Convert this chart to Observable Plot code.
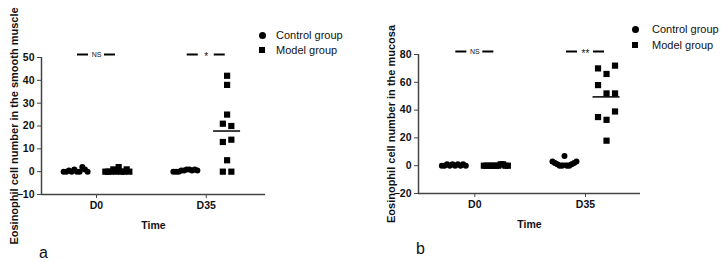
<!DOCTYPE html>
<html><head><meta charset="utf-8">
<script src="https://cdn.jsdelivr.net/npm/d3@7"></script>
<script src="https://cdn.jsdelivr.net/npm/@observablehq/plot@0.6"></script>
<style>
body{margin:0;background:#fff;font-family:Arial,"Liberation Sans",sans-serif;}
#wrap{position:relative;width:724px;height:262px;overflow:hidden;background:#fff;}
.panel{position:absolute;top:0;}
.item{position:absolute;white-space:nowrap;font-size:11px;line-height:12px;color:#111;}
.circ{position:absolute;width:7px;height:7px;border-radius:50%;background:#000;}
.sq{position:absolute;width:6px;height:6px;background:#000;}
.plab{position:absolute;font-size:16px;line-height:18px;color:#111;}
</style></head><body><div id="wrap"></div>
<script>
const times = ["D0", "D35"];
const groups = ["Control group", "Model group"];
// Panel a: smooth muscle
const smoothControlD0 = [0, 0, 0.5, 0, 1, 0, 0, 2, 1, 0];
const smoothModelD0 = [0, 0, 0, 1, 0, 2, 0, 0, 1, 0];
const smoothControlD35 = [0, 0, 0, 0.5, 0.5, 1, 1, 0.5, 1, 0.5];
const smoothModelD35 = [42, 38, 25, 21, 20, 13, 14, 5, 0, 0];
const smoothTicks = [-10, 0, 10, 20, 30, 40, 50];
const smoothSig = ["NS", "*"];
// Panel b: mucosa
const mucosaControlD0 = [0, 0, 1, 0, 1, 0, 1, 0, 1, 0];
const mucosaModelD0 = [0, 0, 0, 0, 0, 0, 0, 1, 1, 0, 0];
const mucosaControlD35 = [3, 2, 1, 0, 0, 7, 0, 0, 1, 2, 3];
const mucosaModelD35 = [70, 66, 72, 58, 52, 52, 35, 33, 39, 18];
const mucosaTicks = [-20, 0, 20, 40, 60, 80];
const mucosaSig = ["NS", "**"];

const FONT = 'Arial, "Liberation Sans", sans-serif';

// column-scatter layout: points whose values are close share a row, spread symmetrically
function layout(values, pxY, pxX, center, maxW = 24, sp = 8.5, gap = 8.8) {
  const idx = values.map((v, i) => i).sort((a, b) => values[b] - values[a] || a - b);
  const rows = []; let cur = null, prev = null;
  for (const i of idx) {
    if (cur && (values[prev] - values[i]) * pxY <= gap) cur.push(i);
    else { cur = [i]; rows.push(cur); }
    prev = i;
  }
  const out = [];
  for (const r of rows) {
    r.sort((a, b) => a - b);
    const n = r.length;
    const s = n > 1 ? Math.min(sp, maxW / (n - 1)) : 0;
    r.forEach((i, k) => out.push({value: values[i], x: center + (k - (n - 1) / 2) * s / pxX}));
  }
  return out;
}

function panel({title, series, ticks, sig, yDomain, xDomain, m}) {
  const W = 362, H = 262;
  const [mL, mR, mT, mB] = m;
  const pxX = (W - mL - mR) / (xDomain[1] - xDomain[0]);
  const pxY = (H - mT - mB) / (yDomain[1] - yDomain[0]);
  const off = 0.19;
  const pts = [], means = [];
  times.forEach((t, ti) => groups.forEach((g, gi) => {
    const vals = series[ti][gi];
    const c = ti + (gi === 0 ? -off : off);
    layout(vals, pxY, pxX, c).forEach(p => pts.push({...p, group: g}));
    means.push({mean: d3.mean(vals), x1: c - 13.5 / pxX, x2: c + 13.5 / pxX});
  }));
  const sigRows = sig.map((s, ti) => ({label: s, x: ti}));
  const segs = sigRows.flatMap(d => [
    {x1: d.x - 19 / pxX, x2: d.x - 8 / pxX},
    {x1: d.x + 8 / pxX, x2: d.x + 19 / pxX}
  ]);
  const sigY = yDomain[1] + 3 / pxY;
  return Plot.plot({
    width: W, height: H,
    marginLeft: mL, marginRight: mR, marginTop: mT, marginBottom: mB,
    x: {type: "linear", domain: xDomain},
    y: {domain: yDomain},
    style: {fontFamily: FONT, background: "transparent", color: "#111", overflow: "visible"},
    marks: [
      Plot.ruleX([xDomain[0]], {stroke: "#444", strokeWidth: 1.5}),
      Plot.ruleY([yDomain[0]], {stroke: "#444", strokeWidth: 1.5}),
      Plot.axisY({ticks, tickSize: 4, tickPadding: 3, fontSize: 10.5, fontWeight: "bold",
        stroke: "#444", label: null}),
      Plot.text([title], {frameAnchor: "left", rotate: -90, dx: -27, text: d => d,
        textAnchor: "middle", lineAnchor: "middle",
        fontSize: 11, fontWeight: "bold", fill: "#111"}),
      Plot.axisX({ticks: [0, 1], tickFormat: i => times[i], tickSize: 4, tickPadding: 3,
        fontSize: 10.5, fontWeight: "bold", stroke: "#444",
        label: "Time", labelAnchor: "center", labelOffset: 34, labelArrow: "none"}),
      Plot.ruleY(segs, {y: () => sigY, x1: "x1", x2: "x2", stroke: "#000", strokeWidth: 2}),
      Plot.text(sigRows.filter(d => d.label === "NS"), {x: "x", y: () => sigY, text: "label",
        fontSize: 7, fill: "#111"}),
      Plot.text(sigRows.filter(d => d.label !== "NS"), {x: "x", y: () => sigY, text: "label",
        fontSize: 10, dy: 2, fill: "#111"}),
      Plot.ruleY(means, {y: "mean", x1: "x1", x2: "x2", stroke: "#000", strokeWidth: 1.5}),
      Plot.dot(pts.filter(d => d.group === groups[0]), {x: "x", y: "value", symbol: "circle", r: 3, fill: "#000"}),
      Plot.dot(pts.filter(d => d.group === groups[1]), {x: "x", y: "value", symbol: "square", r: 3.5, fill: "#000"})
    ]
  });
}

const wrap = document.getElementById("wrap");
function addPanel(el, left) {
  el.classList.add("panel");
  el.style.left = left + "px";
  wrap.appendChild(el);
}
addPanel(panel({
  title: "Eosinophil cell number in the smooth muscle",
  series: [[smoothControlD0, smoothModelD0], [smoothControlD35, smoothModelD35]],
  ticks: smoothTicks, sig: smoothSig,
  yDomain: [-10, 50], xDomain: [-0.501, 1.54], m: [41, 97, 57, 68]
}), 0);
addPanel(panel({
  title: "Eosinophil cell number in the mucosa",
  series: [[mucosaControlD0, mucosaModelD0], [mucosaControlD35, mucosaModelD35]],
  ticks: mucosaTicks, sig: mucosaSig,
  yDomain: [-20, 80], xDomain: [-0.509, 1.497], m: [56, 84, 54, 69]
}), 362);

function legend(cx, cy1, cy2, tx) {
  const c = document.createElement("div"); c.className = "circ";
  c.style.left = (cx - 3.5) + "px"; c.style.top = (cy1 - 3.5) + "px"; wrap.appendChild(c);
  const s = document.createElement("div"); s.className = "sq";
  s.style.left = (cx - 3) + "px"; s.style.top = (cy2 - 3) + "px"; wrap.appendChild(s);
  [[groups[0], cy1], [groups[1], cy2]].forEach(([t, y]) => {
    const d = document.createElement("div"); d.className = "item"; d.textContent = t;
    d.style.left = tx + "px"; d.style.top = (y - 6) + "px"; wrap.appendChild(d);
  });
}
legend(262, 35, 50, 276);
legend(635, 29, 45, 652);

[["a", 39, 244], ["b", 416, 240]].forEach(([t, x, y]) => {
  const d = document.createElement("div"); d.className = "plab"; d.textContent = t;
  d.style.left = x + "px"; d.style.top = y + "px"; wrap.appendChild(d);
});
</script></body></html>
